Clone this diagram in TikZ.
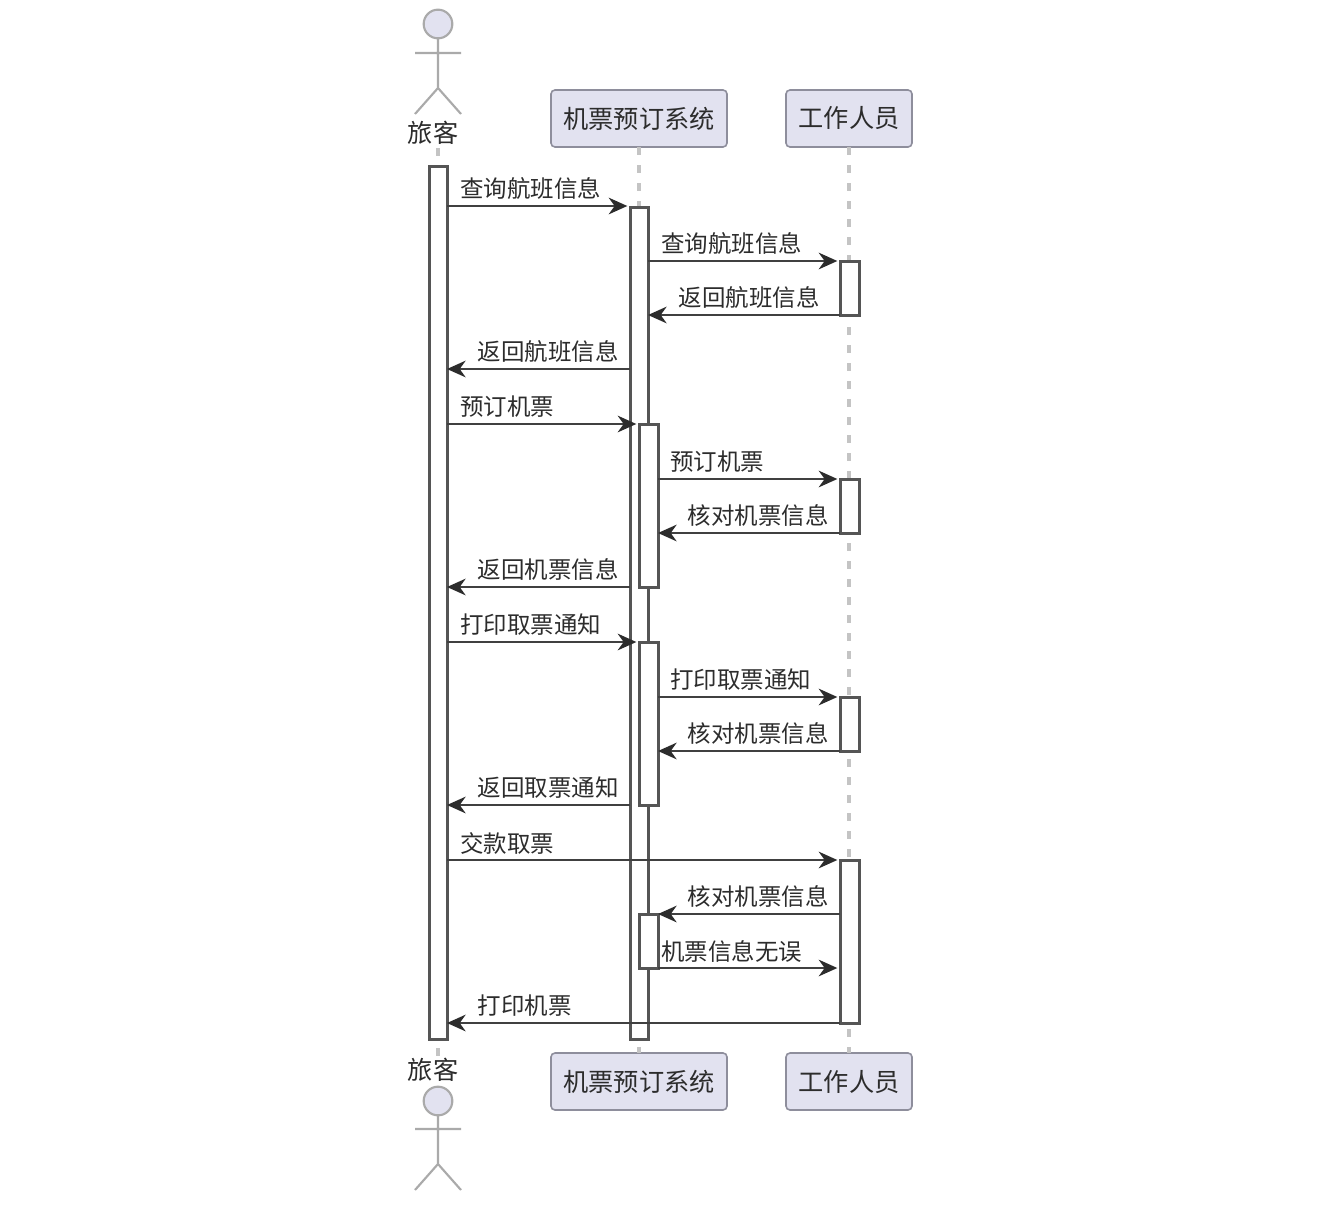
\documentclass[tikz,border=0pt]{standalone}
\usepackage{fontspec}
\setmainfont{Noto Sans CJK SC}
\usetikzlibrary{arrows.meta}
\definecolor{boxfill}{HTML}{E2E2F0}
\definecolor{boxline}{HTML}{8E8E9C}
\definecolor{lifeline}{HTML}{C4C4C4}
\definecolor{actline}{HTML}{555555}
\definecolor{msgline}{HTML}{404040}
\definecolor{inkcol}{HTML}{2C2C2C}
\definecolor{figline}{HTML}{AAAAAA}
\tikzset{
  px/.style={x=0.75pt,y=-0.75pt},
  partbox/.style={draw=boxline,fill=boxfill,line width=1.2pt,rounded corners=3pt,inner sep=0pt,outer sep=0pt,text=inkcol,font=\fontsize{18.9pt}{20pt}\selectfont},
  lifel/.style={draw=lifeline,line width=2.3pt,dash pattern=on 6.3pt off 7.2pt},
  figure/.style={draw=figline,line width=1.6pt},
  figlabel/.style={text=inkcol,font=\fontsize{18.9pt}{20pt}\selectfont,inner sep=0pt},
  actbar/.style={draw=actline,fill=white,line width=2.25pt,inner sep=0pt,outer sep=0pt},
  msgbase/.style={draw=msgline,line width=1.5pt,-{Stealth[length=14pt,width=12.5pt,inset=4.5pt,color=inkcol]}},
  msgright/.style={msgbase,shorten >=2pt},
  msgleft/.style={msgbase},
  msglabel/.style={text=inkcol,font=\fontsize{17.6pt}{19pt}\selectfont,inner sep=0pt},
}
\newcommand{\partnode}[6]{% name, x1, y1, x2, y2, text
  \node[partbox,minimum width={(#4-#2)*0.75pt},minimum height={(#5-#3)*0.75pt}] (#1) at ({(#2+#4)/2},{(#3+#5)/2}) {\raisebox{-0.8pt}{#6}};}
\newcommand{\actnode}[5]{% name, x1, y1, x2, y2
  \node[actbar,minimum width={(#4-#2)*0.75pt},minimum height={(#5-#3)*0.75pt}] (#1) at ({(#2+#4)/2},{(#3+#5)/2}) {};}
\newcommand{\msgr}[6]{% name, from, to, y, label x (left), label
  \draw[msgright] (#2 |- 0,#4) -- (#3 |- 0,#4);
  \node[msglabel,anchor=west] (#1) at (#5,#4-17) {#6};}
\newcommand{\msgl}[6]{% name, from, to, y, label x (right), label
  \draw[msgleft] (#2 |- 0,#4) -- (#3 |- 0,#4);
  \node[msglabel,anchor=east] (#1) at (#5+1,#4-17.5) {#6};}
\begin{document}
\begin{tikzpicture}[px]
\useasboundingbox[fill=white] (0,0) rectangle (1324,1206);
% participants
\partnode{sysT}{551}{90}{727}{147}{机票预订系统}
\partnode{staffT}{786}{90}{912}{147}{工作人员}
\partnode{sysB}{551}{1053}{727}{1110}{机票预订系统}
\partnode{staffB}{786}{1053}{912}{1110}{工作人员}
% actor top
\node[figlabel] (guestT) at (433,133) {旅客};
\node[figure,fill=boxfill,circle,minimum size=21.5pt,inner sep=0pt,outer sep=0pt] (headT) at (438,24) {};
\coordinate (neckT) at (438,88);
\coordinate (armLT) at (415,53);
\coordinate (armRT) at (461,53);
\coordinate (legLT) at (415,114);
\coordinate (legRT) at (461,114);
\draw[figure] (headT.south) -- (neckT) (armLT) -- (armRT) (legLT) -- (neckT) -- (legRT);
% actor bottom
\node[figlabel] (guestB) at (433,1070) {旅客};
\node[figure,fill=boxfill,circle,minimum size=21.5pt,inner sep=0pt,outer sep=0pt] (headB) at (438,1101) {};
\coordinate (neckB) at (438,1164);
\coordinate (armLB) at (415,1129);
\coordinate (armRB) at (461,1129);
\coordinate (legLB) at (415,1190);
\coordinate (legRB) at (461,1190);
\draw[figure] (headB.south) -- (neckB) (armLB) -- (armRB) (legLB) -- (neckB) -- (legRB);
% lifelines
\coordinate (l1t) at (438,148);
\coordinate (l1b) at (438,1056);
\draw[lifel] (l1t) -- (l1b);
\draw[lifel] (sysT.south) -- (sysB.north);
\draw[lifel] (staffT.south) -- (staffB.north);
% activations
\actnode{A}{429}{166}{447}{1039}
\actnode{Ba}{630}{207}{648}{1039}
\actnode{Ca}{840}{261}{859}{315}
\actnode{Bb}{639}{424}{658}{587}
\actnode{Cb}{840}{479}{859}{533}
\actnode{Bc}{639}{642}{658}{805}
\actnode{Cc}{840}{697}{859}{751}
\actnode{Cd}{840}{860}{859}{1023}
\actnode{Bd}{639}{914}{658}{968}
% messages
\msgr{m1}{A.east}{Ba.west}{206}{460}{查询航班信息}
\msgr{m2}{Ba.east}{Ca.west}{261}{661}{查询航班信息}
\msgl{m3}{Ca.west}{Ba.east}{315}{819}{返回航班信息}
\msgl{m4}{Ba.west}{A.east}{369}{618}{返回航班信息}
\msgr{m5}{A.east}{Bb.west}{424}{460}{预订机票}
\msgr{m6}{Bb.east}{Cb.west}{479}{670}{预订机票}
\msgl{m7}{Cb.west}{Bb.east}{533}{828}{核对机票信息}
\msgl{m8}{Ba.west}{A.east}{587}{618}{返回机票信息}
\msgr{m9}{A.east}{Bc.west}{642}{460}{打印取票通知}
\msgr{m10}{Bc.east}{Cc.west}{697}{670}{打印取票通知}
\msgl{m11}{Cc.west}{Bc.east}{751}{828}{核对机票信息}
\msgl{m12}{Ba.west}{A.east}{805}{618}{返回取票通知}
\msgr{m13}{A.east}{Cd.west}{860}{460}{交款取票}
\msgl{m14}{Cd.west}{Bd.east}{914}{828}{核对机票信息}
\msgr{m15}{Bd.east}{Cd.west}{968}{661}{机票信息无误}
\msgl{m16}{Cd.west}{A.east}{1023}{571}{打印机票}
\end{tikzpicture}
\end{document}
